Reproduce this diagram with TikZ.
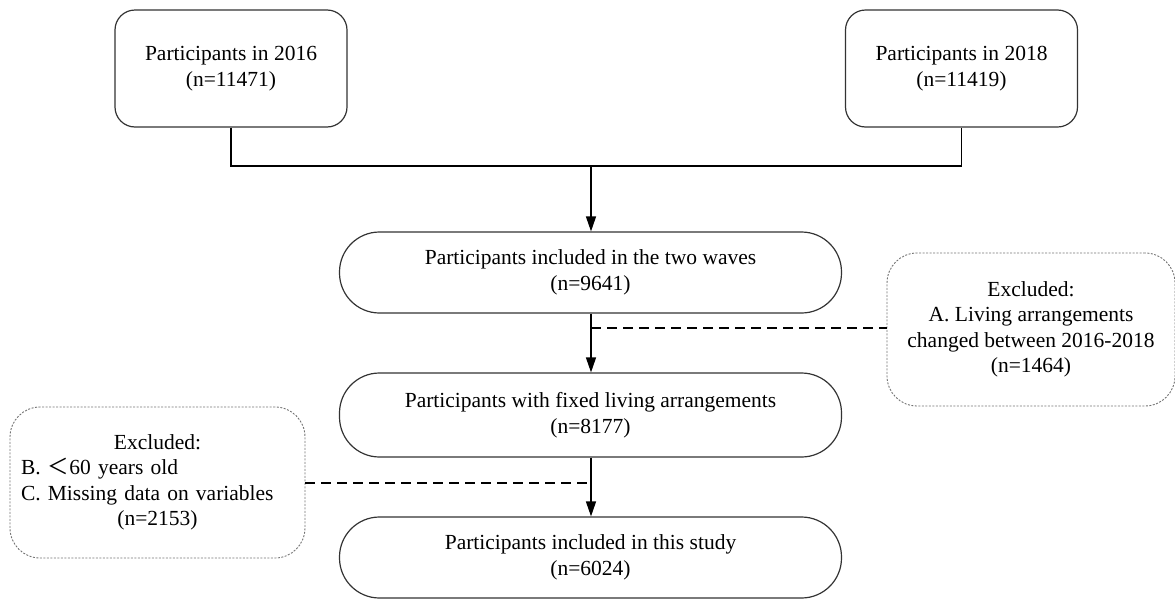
\documentclass[tikz,border=0pt]{standalone}
\usepackage{fontspec}
\setmainfont{Liberation Serif}
\newfontfamily\cjk{Noto Sans CJK SC}
\usetikzlibrary{arrows.meta}
\begin{document}
\begin{tikzpicture}[x=1pt,y={(0pt,-1pt)},
  every node/.style={font=\fontsize{21.5}{25.5}\selectfont, text=black},
  topbox/.style={draw=black!80, line width=1.2pt, rounded corners=20pt, align=center, inner sep=0pt, minimum width=232pt, minimum height=117pt},
  pillbox/.style={draw=black!80, line width=1.2pt, rounded corners=40pt, align=center, inner sep=0pt, minimum width=502pt, minimum height=81pt},
  exbox/.style={draw=black!55, line width=0.9pt, dash pattern=on 2pt off 1.5pt, rounded corners=30pt, inner sep=0pt},
  conn/.style={draw=black, line width=1.3pt},
  arr/.style={conn, -{Triangle[length=15pt,width=10pt]}},
  dline/.style={draw=black, line width=1.2pt, dash pattern=on 10pt off 6pt}]
\useasboundingbox (0,0) rectangle (1175,600);
\node[topbox] (p16) at (231,68.5) {Participants in 2016\\(n=11471)};
\node[topbox] (p18) at (961.5,68.5) {Participants in 2018\\(n=11419)};
\node[pillbox] (inc) at (590.5,272.5) {Participants included in the two waves\\(n=9641)};
\node[pillbox, minimum height=84pt] (fix) at (590.5,415) {Participants with fixed living arrangements\\(n=8177)};
\node[pillbox] (stu) at (590.5,557.5) {Participants included in this study\\(n=6024)};
\node[exbox, minimum width=288pt, minimum height=153pt, align=center] (exA) at (1031,329.5)
  {Excluded:\\A. Living arrangements\\changed between 2016-2018\\(n=1464)};
\node[exbox, minimum width=295pt, minimum height=151pt, text width=273pt, align=left] (exB) at (157.5,482.5)
  {\makebox[\linewidth]{Excluded:}\\B. {\cjk ＜}60 years old\\C. Missing data on variables\\\makebox[\linewidth]{(n=2153)}};
\coordinate (jn) at (591,166);
\coordinate (dA) at (591,328);
\coordinate (dB) at (591,483);
\draw[conn] (p16.south) |- (jn) -| (p18.south);
\draw[arr] (jn) -- (inc.north -| jn);
\draw[arr] (inc.south -| jn) -- (fix.north -| jn);
\draw[arr] (fix.south -| jn) -- (stu.north -| jn);
\draw[dline] (dA) -- (dA -| exA.west);
\draw[dline] (exB.east |- dB) -- (dB);
\end{tikzpicture}
\end{document}
